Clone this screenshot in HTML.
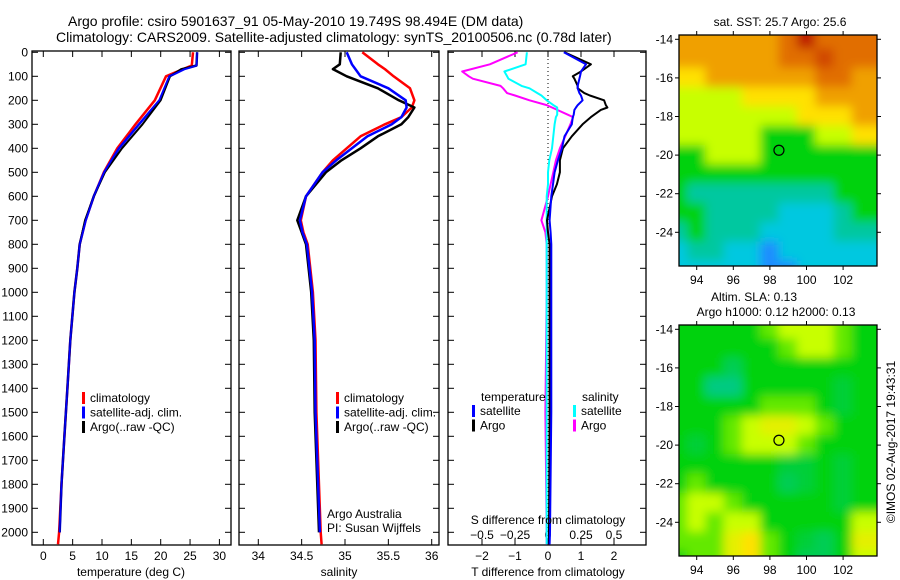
<!DOCTYPE html>
<html><head><meta charset="utf-8"><style>
body{margin:0;background:#fff}
svg{display:block;font-family:"Liberation Sans",sans-serif}
text{fill:#000}
</style></head><body>
<svg id="fig" width="900" height="580" viewBox="0 0 900 580" xmlns="http://www.w3.org/2000/svg">
<defs>
<filter id="blur" x="-10%" y="-10%" width="120%" height="120%"><feGaussianBlur stdDeviation="5"/></filter>
<clipPath id="clipM1"><rect x="679" y="35" width="198" height="231"/></clipPath>
<clipPath id="clipM2"><rect x="679" y="325" width="198" height="231"/></clipPath>
</defs>
<text x="68" y="26" font-size="14">Argo profile: csiro 5901637_91 05-May-2010 19.749S 98.494E (DM data)</text>
<text x="56" y="42" font-size="14">Climatology: CARS2009. Satellite-adjusted climatology: synTS_20100506.nc (0.78d later)</text>
<g id="g"></g>
</svg>
<script>
// ---- profile data (depth in m) ----
const tDepth = [0, 55, 70, 100, 200, 300, 400, 500, 600, 700, 800, 900, 1000, 1200, 1400, 1600, 1800, 2000, 2050];
const tClim  = [25.5, 25.3, 23.8, 20.9, 19.0, 15.7, 12.6, 10.3, 8.6, 7.2, 6.2, 5.8, 5.3, 4.6, 4.1, 3.6, 3.1, 2.7, 2.5];
const tSat   = [26.2, 26.1, 24.0, 21.5, 19.8, 16.3, 12.9, 10.4, 8.6, 7.2, 6.2, 5.8, 5.3, 4.6, 4.1, 3.6, 3.1, 2.8];
const tArgo  = [26.2, 26.1, 23.5, 21.6, 20.0, 16.9, 13.4, 10.5, 8.6, 7.1, 6.2, 5.8, 5.3, 4.6, 4.1, 3.6, 3.1, 2.8];

const sDepth = [0, 50, 70, 100, 150, 200, 230, 270, 300, 350, 400, 450, 500, 600, 700, 750, 800, 900, 1000, 1200, 1500, 2000, 2050];
const sClim  = [35.20, 35.38, 35.46, 35.56, 35.75, 35.80, 35.77, 35.65, 35.46, 35.18, 35.02, 34.86, 34.74, 34.55, 34.49, 34.52, 34.57, 34.60, 34.63, 34.66, 34.67, 34.72, 34.73];
const sSat   = [35.02, 35.08, 35.12, 35.18, 35.50, 35.70, 35.71, 35.65, 35.54, 35.26, 35.08, 34.90, 34.74, 34.55, 34.48, 34.51, 34.56, 34.59, 34.62, 34.65, 34.66, 34.71];
const sArgo  = [34.95, 34.94, 34.86, 35.02, 35.38, 35.62, 35.80, 35.73, 35.65, 35.38, 35.18, 34.96, 34.78, 34.55, 34.45, 34.50, 34.55, 34.58, 34.61, 34.64, 34.65, 34.70];

const dDepth   = [0, 50, 80, 100, 110, 140, 150, 170, 180, 200, 220, 230, 240, 260, 270, 300, 350, 400, 450, 500, 550, 600, 700, 750, 800, 1000, 1500, 2000, 2050];
const dTsat    = [0.48, 1.15, 1.0, 0.97, 0.95, 0.9, 0.9, 0.95, 1.0, 1.05, 0.9, 0.85, 0.8, 0.78, 0.75, 0.72, 0.5, 0.42, 0.3, 0.2, 0.15, 0.1, 0.05, 0.08, 0.1, 0.1, 0.1, 0.06, 0.05];
const dTargo   = [0.5, 1.3, 1.0, 0.75, 0.8, 0.9, 0.9, 1.1, 1.27, 1.7, 1.75, 1.8, 1.6, 1.4, 1.3, 1.05, 0.72, 0.45, 0.36, 0.36, 0.27, 0.12, -0.03, 0.0, 0.05, 0.05, 0.05, 0.03, 0.03];
const dSsat    = [-0.16, -0.17, -0.33, -0.31, -0.3, -0.2, -0.14, -0.08, -0.05, -0.01, 0.04, 0.07, 0.07, 0.07, 0.06, 0.05, 0.04, 0.03, 0.01, 0.0, 0.0, -0.01, -0.01, -0.01, -0.01, -0.01, -0.01, -0.01, -0.01];
const dSargo   = [-0.23, -0.44, -0.65, -0.6, -0.57, -0.36, -0.34, -0.31, -0.25, -0.14, -0.01, 0.03, 0.07, 0.15, 0.19, 0.17, 0.13, 0.09, 0.06, 0.04, 0.02, 0.0, -0.05, -0.02, -0.01, -0.01, -0.02, -0.01, -0.01];

const depthTicks = [0,100,200,300,400,500,600,700,800,900,1000,1100,1200,1300,1400,1500,1600,1700,1800,1900,2000];
const tTicks = [0,5,10,15,20,25,30];
const sTicks = [34,34.5,35,35.5,36];
const dtTicks = [-2,-1,0,1,2];
const dsTicks = [-0.5,-0.25,0,0.25,0.5];

// ---- map data ----
const lonTicks = [94,96,98,100,102];
const latTicks = [-14,-16,-18,-20,-22,-24];
const sstGrid = [
[6,6,6,6,6,6,7,8,7,7,7],
[6,6,6,6,6,6,7,7,7.5,7,7],
[5,5,6,6,6,6,6,6,7,7,6],
[4,4,4,4,5,5,5,5,6,6,6],
[4,4,4,4,4,4,4,5,5,5,6],
[4,4,4,4,4,3,3,3,4,4,5],
[3,3,4,4,4,3,3,3,3,3,3],
[3,3,3,3,3,3,3,3,3,3,3],
[3,2,2,2,2,2,2,2,2,3,3],
[3,3,2,2,2,2,1,1,1,2,3],
[2,3,2,2,2,1,1,1,1,2,2],
[1,2,2,1,1,0,1,1,1,1,1],
[1,1,1,1,1,0,0,1,1,1,1]];
const slaGrid = [
[3,3,3,3,3,3.5,4,4,4,3.5,3],
[3,3,3,3,3,3,3.5,4,4,3.5,3],
[3,3,3,2.5,3,3,3,3,3,3,3],
[3,3,2.2,2.2,3,3,3,3,3,2.7,3],
[3,3,3,3,3,3.5,3.5,3.5,3,2.7,3],
[3,3,3,3.5,4,4.5,4.5,4,3.5,3,3],
[3,2.7,3,3.5,4,4,4,3.5,3,3,3],
[3,3,3,3,3,3,2.7,2.7,3,2.7,3],
[3,3.5,3,3,3,3,2.5,2.7,3,2.7,3],
[3.5,4,4,3.5,3,3,3,3,3,2.7,3],
[3.5,4,3.5,4,4,3,3,3,3,3,4],
[3.5,3.5,3.5,4.5,5,3.5,3,2.7,2.5,3,4.5],
[3,3.5,3.5,4.5,5,3.5,3,2.5,2.5,3,4]];
const argoLon = 98.494, argoLat = -19.749;

const NS="http://www.w3.org/2000/svg";
const G=document.getElementById('g');
function el(tag,attrs,parent,txt){const e=document.createElementNS(NS,tag);for(const k in attrs)e.setAttribute(k,attrs[k]);if(txt!==undefined)e.textContent=txt;(parent||G).appendChild(e);return e;}

const Y0=52.3, YS=0.24;
const yD=d=>Y0+d*YS;
const PT=51, PB=545;

function frame(x0,x1,name){
  const r=el('rect',{x:x0,y:PT,width:x1-x0,height:PB-PT,fill:'none',stroke:'#000','stroke-width':1.3});
  
  
  depthTicks.forEach(d=>{
    el('line',{x1:x0,x2:x0+6,y1:yD(d),y2:yD(d),stroke:'#000'});
    el('line',{x1:x1,x2:x1-6,y1:yD(d),y2:yD(d),stroke:'#000'});
  });
}
function xticks(vals,fx,y,labelY,fmt,nm){
  vals.forEach(v=>{
    el('line',{x1:fx(v),x2:fx(v),y1:PB,y2:PB-6,stroke:'#000'});
    el('line',{x1:fx(v),x2:fx(v),y1:PT,y2:PT+6,stroke:'#000'});
    const t=el('text',{x:fx(v),y:labelY,'font-size':12,'text-anchor':'middle'},null,fmt(v));
    
    
  });
}
function line(depths,vals,fx,color,w,name){
  const n=Math.min(depths.length,vals.length);
  let p=[];for(let i=0;i<n;i++)p.push(fx(vals[i]).toFixed(1)+','+yD(depths[i]).toFixed(1));
  const l=el('polyline',{points:p.join(' '),fill:'none',stroke:color,'stroke-width':w,'stroke-linejoin':'round'});
  
  
}
function legend(x,y,entries){
  entries.forEach((e,i)=>{
    el('rect',{x:x,y:y+i*14.5-10,width:3,height:12,fill:e[1]});
    const t=el('text',{x:x+8,y:y+i*14.5,'font-size':12},null,e[0]);
    
    
  });
}

depthTicks.forEach(d=>{
  const t=el('text',{x:28,y:yD(d)+4,'font-size':12,'text-anchor':'end'},null,String(d));
  
  
});

const fT=v=>43.3+v*5.87;
frame(32,231,'temperature-panel');
xticks(tTicks,fT,PB,560,v=>v,'temperature-tick-label');
line(tDepth,tClim,fT,'#f00',2.5,'temp-climatology-line');
line(tDepth,tSat,fT,'#00f',2.5,'temp-satellite-line');
line(tDepth,tArgo,fT,'#000',2,'temp-argo-line');
line(tDepth,tSat,fT,'#00f',1.5,'temp-satellite-line-top');
legend(82,402,[['climatology','#f00'],['satellite-adj. clim.','#00f'],['Argo(..raw -QC)','#000']]);
el('text',{x:131,y:576,'font-size':12,'text-anchor':'middle',},null,'temperature (deg C)');

const fS=v=>258.3+(v-34)*86.7;
frame(239,439,'salinity-panel');
xticks(sTicks,fS,PB,560,v=>v,'salinity-tick-label');
line(sDepth,sClim,fS,'#f00',2.5,'sal-climatology-line');
line(sDepth,sArgo,fS,'#000',2.5,'sal-argo-line');
line(sDepth,sSat,fS,'#00f',2.5,'sal-satellite-line');
legend(336,402,[['climatology','#f00'],['satellite-adj. clim.','#00f'],['Argo(..raw -QC)','#000']]);
el('text',{x:327,y:518,'font-size':12,},null,'Argo Australia');
el('text',{x:327,y:532,'font-size':12,},null,'PI: Susan Wijffels');
el('text',{x:339,y:576,'font-size':12,'text-anchor':'middle',},null,'salinity');

const fDT=v=>548+v*33;
const fDS=v=>548+v*132;
frame(448,646,'difference-panel');
el('line',{x1:548,x2:548,y1:PT,y2:PB,stroke:'#000','stroke-dasharray':'1,3',});
dtTicks.forEach(v=>{
  el('line',{x1:fDT(v),x2:fDT(v),y1:PB,y2:PB-6,stroke:'#000'});
  const t=el('text',{x:fDT(v),y:560,'font-size':12,'text-anchor':'middle'},null,v<0?'\u2212'+(-v):String(v));
  
  
});
dsTicks.forEach(v=>{
  el('line',{x1:fDS(v),x2:fDS(v),y1:PT,y2:PT+6,stroke:'#000'});
  const t=el('text',{x:fDS(v),y:539,'font-size':12,'text-anchor':'middle'},null,v<0?'\u2212'+(-v):String(v));
  
  
});
line(dDepth,dSargo,fDS,'#f0f',2,'s-diff-argo-line');
line(dDepth,dSsat,fDS,'#0ff',2,'s-diff-satellite-line');
line(dDepth,dTargo,fDT,'#000',2,'t-diff-argo-line');
line(dDepth,dTsat,fDT,'#00f',2,'t-diff-satellite-line');
el('text',{x:481,y:401,'font-size':12,},null,'temperature');
legend(472,415,[['satellite','#00f'],['Argo','#000']]);
el('text',{x:582,y:401,'font-size':12,},null,'salinity');
legend(573,415,[['satellite','#0ff'],['Argo','#f0f']]);
el('text',{x:548,y:524,'font-size':12,'text-anchor':'middle',},null,'S difference from climatology');
el('text',{x:548,y:576,'font-size':12,'text-anchor':'middle',},null,'T difference from climatology');

const stops=[[0,[26,140,255]],[1,[0,200,224]],[2,[0,200,160]],[3,[0,210,10]],[4,[200,255,0]],[5,[255,225,0]],[6,[240,160,0]],[7,[225,110,0]],[8,[190,30,0]]];
function cmap(v){
  for(let i=0;i<stops.length-1;i++){
    if(v<=stops[i+1][0]){const a=stops[i],b=stops[i+1];const f=(v-a[0])/(b[0]-a[0]);
      return 'rgb('+a[1].map((c,k)=>Math.round(c+(b[1][k]-c)*f)).join(',')+')';}
  }
  return 'rgb(190,30,0)';
}
const MX0=679,MX1=877,LONPX=18.3;
const fLon=l=>696.7+(l-94)*LONPX;
function drawMap(grid,top,lat14y,clip,name){
  const fLat=l=>lat14y+(-14-l)*19.3;
  const g=el('g',{'clip-path':'url(#'+clip+')'});
  
  
  el('rect',{x:MX0,y:top,width:198,height:231,fill:cmap(grid[6][5])},g);
  const gb=el('g',{filter:'url(#blur)'},g);
  grid.forEach((row,r)=>row.forEach((v,c)=>{
    const cx=fLon(93+c),cy=fLat(-14-r);
    const w=LONPX+1, h=20.3;
    el('rect',{x:cx-w/2-(c==0?30:0),y:cy-h/2-(r==0?30:0),width:w+(c==0||c==row.length-1?30:0),height:h+(r==0||r==grid.length-1?30:0),fill:cmap(v)},gb);
  }));
  el('rect',{x:MX0,y:top,width:198,height:231,fill:'none',stroke:'#000','stroke-width':1.3});
  lonTicks.forEach(l=>{
    el('line',{x1:fLon(l),x2:fLon(l),y1:top,y2:top-4,stroke:'#000'});
    el('line',{x1:fLon(l),x2:fLon(l),y1:top+231,y2:top+235,stroke:'#000'});
    const t=el('text',{x:fLon(l),y:top+249,'font-size':12,'text-anchor':'middle'},null,String(l));
    
    
  });
  latTicks.forEach(l=>{
    el('line',{x1:MX0,x2:MX0-4,y1:fLat(l),y2:fLat(l),stroke:'#000'});
    el('line',{x1:MX1,x2:MX1+4,y1:fLat(l),y2:fLat(l),stroke:'#000'});
    const t=el('text',{x:673,y:fLat(l)+4,'font-size':12,'text-anchor':'end'},null,'-'+(-l));
    
    
  });
  const c=el('circle',{cx:fLon(argoLon),cy:fLat(argoLat),r:5,fill:'none',stroke:'#000','stroke-width':1.2});
  
  
}
drawMap(sstGrid,35,39.3,'clipM1','sst-map');
drawMap(slaGrid,325,329.3,'clipM2','sla-map');
el('text',{x:780,y:26,'font-size':12,'text-anchor':'middle',},null,'sat. SST: 25.7 Argo: 25.6');
el('text',{x:754,y:301,'font-size':12,'text-anchor':'middle',},null,'Altim. SLA: 0.13');
el('text',{x:776,y:316,'font-size':12,'text-anchor':'middle',},null,'Argo h1000: 0.12 h2000: 0.13');
el('text',{x:0,y:0,'font-size':12,'text-anchor':'middle',transform:'translate(895,442) rotate(-90)',},null,'\u00a9IMOS 02-Aug-2017 19:43:31');
</script>
</body></html>
